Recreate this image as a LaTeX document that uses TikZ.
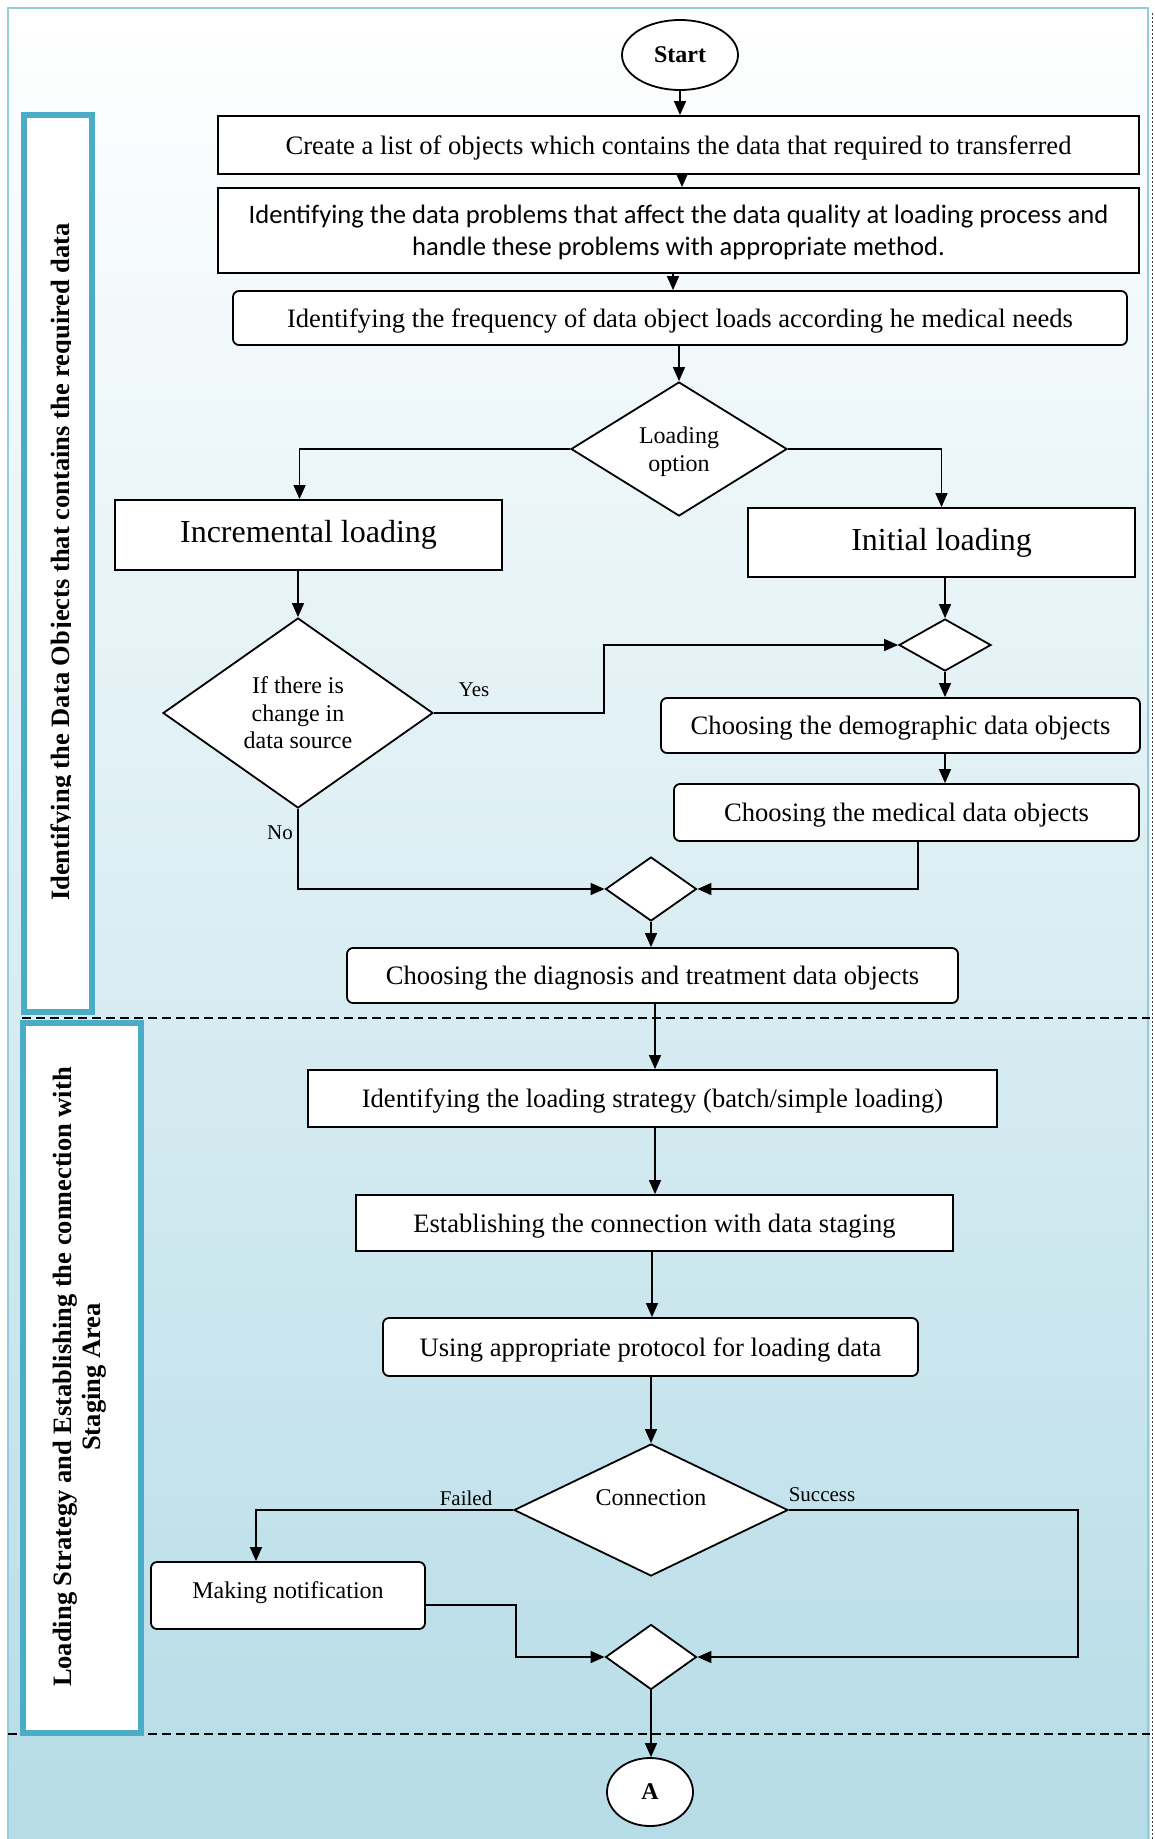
\documentclass[tikz,border=0pt]{standalone}
\usepackage{fontspec}
\setmainfont{Liberation Serif}
\newfontfamily\calibri{Carlito}
\usetikzlibrary{shapes.geometric,arrows.meta}
\definecolor{bgblue}{HTML}{B6DCE7}
\definecolor{framecol}{HTML}{93CDDD}
\definecolor{sidecol}{HTML}{4BACC6}

\begin{document}
\begin{tikzpicture}[x=1pt,y=-1pt,
  base/.style={draw=black, line width=1.8pt, fill=white, inner sep=0pt, text depth=0pt,
               font=\fontsize{26.6}{32}\selectfont},
  box/.style={base, rectangle},
  rbox/.style={base, rectangle, rounded corners=6pt},
  decision/.style={base, diamond},
  term/.style={base, ellipse, font=\fontsize{24}{28}\selectfont\bfseries},
  bigtext/.style={font=\fontsize{32}{36}\selectfont, text depth=7pt},
  arr/.style={line width=1.5pt, -{Triangle[length=14pt,width=12pt]}},
  lbl/.style={font=\fontsize{21}{24}\selectfont, inner sep=0pt},
  dtext/.style={font=\fontsize{24}{27.5}\selectfont, align=center, inner sep=0pt, text depth=0pt},
  sidebox/.style={draw=sidecol, line width=6pt, fill=white},
  sidetext/.style={rotate=90, anchor=base, inner sep=0pt,
                   font=\fontsize{26.5}{30}\selectfont\bfseries},
  divider/.style={line width=1.8pt, dash pattern=on 9pt off 5pt}
]
\useasboundingbox (0,0) rectangle (1154,1839);

% page background with its gradient and frame
\fill[white] (0,0) rectangle (1154,1839);
\shade[top color=white, bottom color=bgblue] (8,8) rectangle (1150,1839);
\draw[framecol, line width=2.5pt] (8,1839) -- (8,8) -- (1148,8) -- (1148,1839);
\draw[black!75, line width=1.5pt, dash pattern=on 2pt off 2pt] (1152.5,13) -- (1152.5,1839);

% phase dividers
\draw[divider] (22,1018) -- (1150,1018);
\draw[divider] (8,1734) -- (1150,1734);

% side labels of the two phases
\draw[sidebox] (24,115) rectangle (92,1012);
\begin{scope}
  \clip (27,118) rectangle (70.5,1009);
  \node[sidetext] (side1) at (69,562) {Identifying the Data Objects that contains the required data};
\end{scope}
\draw[sidebox] (23,1023) rectangle (140.5,1733);
\node[sidetext] (side2a) at (71,1377) {Loading Strategy and Establishing the connection with};
\node[sidetext] (side2b) at (100,1377) {Staging Area};

% flow nodes
\node[term, minimum width=116pt, minimum height=70pt] (start) at (680,55) {Start};
\node[box, minimum width=921pt, minimum height=58pt] (create) at (678.5,145)
  {Create a list of objects which contains the data that required to transferred};
\node[box, minimum width=921pt, minimum height=85pt, align=center,
      font=\calibri\fontsize{26.6}{31.5}\selectfont] (problems) at (678.5,230.5)
  {Identifying the data problems that affect the data quality at loading process and\\
   handle these problems with appropriate method.};
\node[rbox, minimum width=894pt, minimum height=54pt] (freq) at (680,318)
  {Identifying the frequency of data object loads according he medical needs};

\node[decision, minimum width=216pt, minimum height=134pt] (loadopt) at (679,449) {};
\node[dtext] (loadopt-t) at (loadopt) {Loading\\option};

\node[box, bigtext, minimum width=387pt, minimum height=70pt] (incr) at (308.5,535) {Incremental loading};
\node[box, bigtext, minimum width=387pt, minimum height=69pt] (init) at (941.5,542.5) {Initial loading};

\node[decision, minimum width=270pt, minimum height=190pt] (change) at (298,713) {};
\node[dtext] (change-t) at (change) {If there is\\change in\\data source};

\node[decision, minimum width=92pt, minimum height=52pt] (dj1) at (945,645) {};
\node[rbox, minimum width=479pt, minimum height=55pt] (demo) at (900.5,725.5)
  {Choosing the demographic data objects};
\node[rbox, minimum width=465pt, minimum height=57pt] (med) at (906.5,812.5)
  {Choosing the medical data objects};

\node[decision, minimum width=91pt, minimum height=64pt] (dj2) at (651,889) {};
\node[rbox, minimum width=611pt, minimum height=55pt] (diag) at (652.5,975.5)
  {Choosing the diagnosis and treatment data objects};

\node[box, minimum width=689pt, minimum height=57pt] (strat) at (652.5,1098.5)
  {Identifying the loading strategy (batch/simple loading)};
\node[box, minimum width=597pt, minimum height=56pt] (estab) at (654.5,1223)
  {Establishing the connection with data staging};
\node[rbox, minimum width=535pt, minimum height=58pt] (proto) at (650.5,1347)
  {Using appropriate protocol for loading data};

\node[decision, minimum width=274pt, minimum height=132pt] (conn) at (651,1510) {};
\node[dtext] (conn-t) at (651,1498) {Connection};

\node[rbox, minimum width=274pt, minimum height=67pt] (notif) at (288,1595.5) {};
\node[dtext] (notif-t) at (288,1590) {Making notification};

\node[decision, minimum width=91pt, minimum height=65pt] (dj3) at (651,1657) {};
\node[term, minimum width=86pt, minimum height=68pt] (endA) at (650,1792) {A};

% branch labels
\node[lbl] (yes) at (474,690) {Yes};
\node[lbl] (no) at (280,833) {No};
\node[lbl] (failed) at (466,1498) {Failed};
\node[lbl] (success) at (822,1495) {Success};

% connectors
\draw[arr] (start.south) -- (start.south |- create.north);
\draw[arr] ([xshift=3.5pt]create.south) -- ([xshift=3.5pt]problems.north);
\draw[arr] ([xshift=-5.5pt]problems.south) -- ([xshift=-5.5pt]problems.south |- freq.north);
\draw[arr] (loadopt.north |- freq.south) -- (loadopt.north);
\draw[arr] (loadopt.west) -| ([xshift=-9pt]incr.north);
\draw[arr] (loadopt.east) -| (init.north);
\draw[arr] (change.north |- incr.south) -- (change.north);
\draw[arr] (dj1.north |- init.south) -- (dj1.north);
\draw[arr] (change.east) -- ++(170,0) |- (dj1.west);
\draw[arr] (dj1.south) -- (dj1.south |- demo.north);
\draw[arr] (dj1.south |- demo.south) -- (dj1.south |- med.north);
\draw[arr] ([xshift=11.5pt]med.south) |- (dj2.east);
\draw[arr] (change.south) |- (dj2.west);
\draw[arr] (dj2.south) -- (dj2.south |- diag.north);
\draw[arr] ([xshift=2.5pt]diag.south) -- ([xshift=2.5pt]diag.south |- strat.north);
\draw[arr] ([xshift=2.5pt]strat.south) -- ([xshift=2.5pt]strat.south |- estab.north);
\draw[arr] ([xshift=-2.5pt]estab.south) -- ([xshift=-2.5pt]estab.south |- proto.north);
\draw[arr] (conn.north |- proto.south) -- (conn.north);
\draw[arr] (conn.west) -| ([xshift=-32pt]notif.north);
\draw[arr] ([yshift=-9.5pt]notif.east) -- ++(90,0) |- (dj3.west);
\draw[arr] (conn.east) -- ++(289,0) |- (dj3.east);
\draw[arr] (dj3.south) -- (dj3.south |- endA.north);
\end{tikzpicture}
\end{document}
